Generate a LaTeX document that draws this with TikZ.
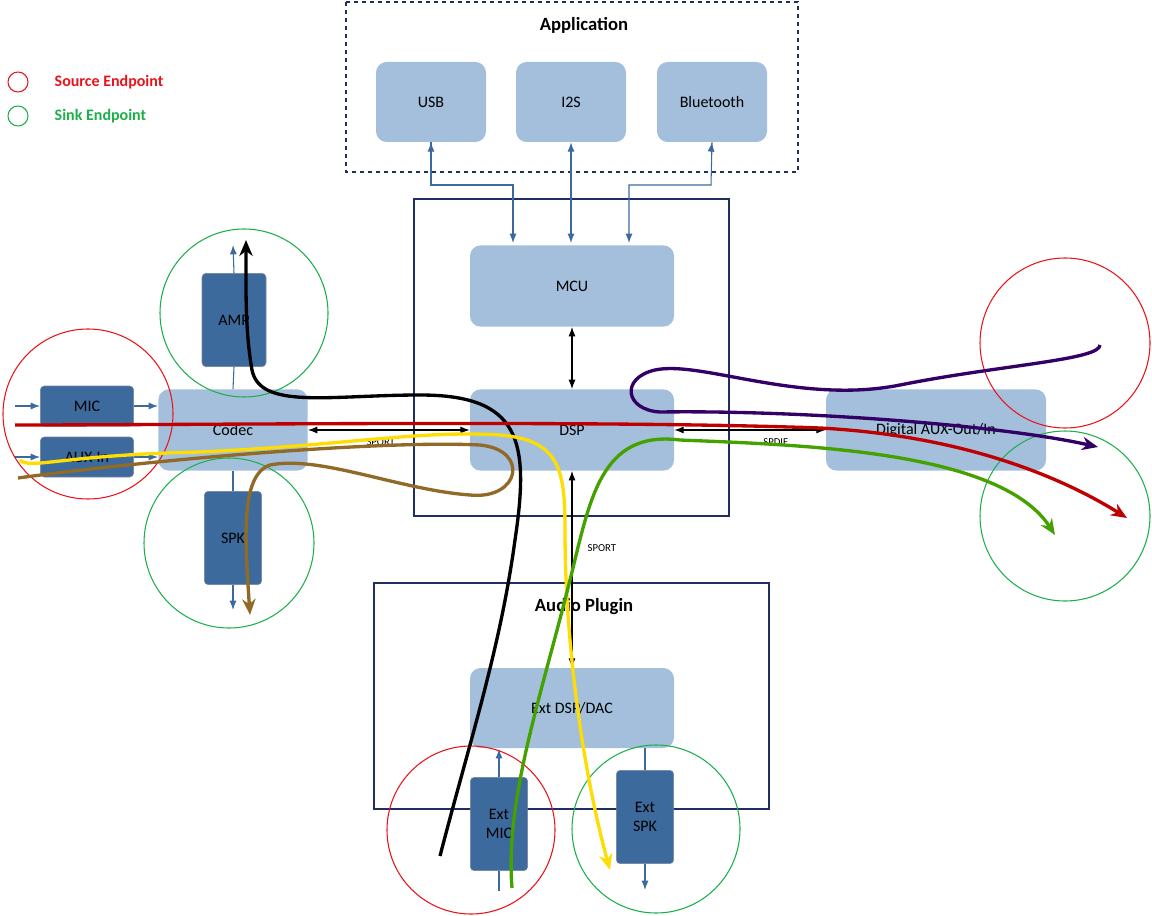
\documentclass[tikz,border=0pt]{standalone}
\usepackage{fontspec}
\setmainfont{Carlito}
\usetikzlibrary{positioning,arrows.meta}
\definecolor{lightblk}{HTML}{A3BFDB}
\definecolor{darkblk}{HTML}{3C6A9C}
\definecolor{frame}{HTML}{1F2F5F}
\definecolor{srcred}{HTML}{E8141B}
\definecolor{snkgreen}{HTML}{1DAF4B}
\begin{document}
\begin{tikzpicture}[x=0.75pt,y=-0.75pt,
        block/.style={rectangle, rounded corners=8pt, fill=lightblk, font=\fontsize{12}{14}\selectfont},
        dblock/.style={rectangle, rounded corners=3pt, fill=darkblk, draw=frame!60, font=\fontsize{12}{14}\selectfont, align=center},
        area/.style={draw=frame, thick},
        title/.style={font=\bfseries\fontsize{14}{16}\selectfont},
        link/.style={draw=darkblk, thick, -{Latex[length=7pt]}},
        blink/.style={thick, {Latex[length=7pt]}-{Latex[length=7pt]}},
        tag/.style={font=\fontsize{8}{9}\selectfont},
        src/.style={draw=srcred, thick},
        snk/.style={draw=snkgreen, thick},
        flow/.style={line width=2.5pt, -{Stealth[length=12pt,width=10pt]}}
    ]
        \useasboundingbox (0,0) rectangle (1152,916);

        % application
        \draw[area, dashed, line width=1.5pt] (346,2) rectangle (798,172);
        \node[title] (app) at (584,25) {Application};
        \node[block, minimum width=82.5pt, minimum height=60pt] (usb) at (431,102) {USB};
        \node[block, minimum width=82.5pt, minimum height=60pt] (i2s) at (571,102) {I2S};
        \node[block, minimum width=82.5pt, minimum height=60pt] (bt)  at (712,102) {Bluetooth};

        % dsp area
        \draw[area] (414,199) rectangle (729,516);
        \node[block, minimum width=153pt, minimum height=61pt] (mcu) at (572,286) {MCU};
        \node[block, minimum width=153pt, minimum height=61pt] (dsp) at (572,430) {DSP};
        \node[block, minimum width=112pt, minimum height=61pt] (codec) at (233,430) {Codec};
        \node[block, minimum width=165pt, minimum height=61pt] (aux) at (936,430) {Digital AUX-Out/In};

        % audio plugin
        \draw[area] (374,583) rectangle (769,809);
        \node[title] (plug) at (584,607) {Audio Plugin};
        \node[block, minimum width=153pt, minimum height=60pt] (ext) at (572,708) {Ext DSP/DAC};

        % endpoints
        \node[dblock, minimum width=70pt, minimum height=30pt] (mic) at (87,406) {MIC};
        \node[dblock, minimum width=70pt, minimum height=30pt] (auxin) at (87,457) {AUX-In};
        \node[dblock, minimum width=48pt, minimum height=70pt] (amp) at (234,320) {AMP};
        \node[dblock, minimum width=43pt, minimum height=70pt] (spk) at (233,538) {SPK};
        \node[dblock, minimum width=43pt, minimum height=70pt] (extmic) at (499,824) {Ext\\MIC};
        \node[dblock, minimum width=43pt, minimum height=70pt] (extspk) at (645,817) {Ext\\SPK};

        % blue links
        \draw[link] (usb.south) -- (431,185) -| (513,243);
        \draw[link, <-, >={Latex[length=7pt]}] (usb.south) -- (431,152);
        \draw[link, {Latex[length=7pt]}-{Latex[length=7pt]}] (i2s.south) -- (571,243);
        \draw[link] (bt.south) -- (711,185) -| (629,243);
        \draw[link, <-, >={Latex[length=7pt]}] (bt.south) -- (711,152);
        \coordinate (micin) at (15,406);
        \coordinate (auxinl) at (15,457);
        \draw[link] (micin) -- (mic.west);
        \draw[link] (mic.east) -- (158,406);
        \draw[link] (auxinl) -- (auxin.west);
        \draw[link] (auxin.east) -- (158,457);
        \draw[draw=darkblk, thick] (amp.south) -- (233,389);
        \draw[link] (amp.north) -- (233,245);
        \draw[draw=darkblk, thick] (codec.south) -- (spk.north);
        \draw[link] (spk.south) -- (233,610);
        \draw[draw=darkblk, thick] (499,891) -- (extmic.south);
        \draw[link] (extmic.north) -- (499,749);
        \draw[draw=darkblk, thick] (ext.south -| extspk) -- (extspk.north);
        \draw[link] (extspk.south) -- (645,890);

        % bus links
        \draw[blink] (mcu.south) -- (dsp.north);
        \draw[blink] (codec.east) -- (dsp.west) node[tag, pos=0.45, below=3pt] {SPORT};
        \draw[blink] (dsp.east) -- (aux.west) node[tag, pos=0.67, below=3pt] {SPDIF};
        \draw[blink] (dsp.south) -- (ext.north) node[tag, pos=0.39, right=8pt] {SPORT};

        % endpoint rings
        \draw[snk] (244,313) circle (84);
        \draw[src] (88,414) circle (85);
        \draw[snk] (229,543) circle (85);
        \draw[src] (1065,343) circle (85);
        \draw[snk] (1065,516) circle (85);
        \draw[src] (471,830) circle (84);
        \draw[snk] (656,829) circle (84);

        % legend
        \draw[src] (18,82) circle (10);
        \node[text=srcred, font=\bfseries\fontsize{12}{14}\selectfont, anchor=west] (srclbl) at (50,82) {Source Endpoint};
        \draw[snk] (18,116) circle (10);
        \node[text=snkgreen, font=\bfseries\fontsize{12}{14}\selectfont, anchor=west] (snklbl) at (50,116) {Sink Endpoint};

        % flows
        \draw[flow, black] (440,856) .. controls (470,740) and (500,650) .. (515,540)
            .. controls (530,440) and (520,395) .. (420,395)
            .. controls (330,395) and (260,410) .. (252,370)
            .. controls (245,330) and (246,290) .. (246,240);
        \draw[flow, red!75!black] (15,425) .. controls (200,425) and (600,420) .. (820,428)
            .. controls (950,435) and (1050,470) .. (1127,518);
        \draw[flow, yellow!80!orange] (20,460) .. controls (30,470) and (60,455) .. (200,452)
            .. controls (350,445) and (420,430) .. (500,435)
            .. controls (560,440) and (565,470) .. (565,530)
            .. controls (565,650) and (585,780) .. (610,870);
        \draw[flow, brown!70!black!90!yellow] (18,478) .. controls (150,460) and (380,440) .. (480,445)
            .. controls (530,450) and (520,500) .. (470,495)
            .. controls (400,490) and (320,455) .. (270,465)
            .. controls (240,475) and (245,540) .. (250,615);
        \draw[flow, green!40!olive!90!black] (512,888) .. controls (505,800) and (540,700) .. (570,580)
            .. controls (590,500) and (600,430) .. (680,440)
            .. controls (800,445) and (1000,450) .. (1055,535);
        \draw[flow, violet!50!black!80!blue] (1100,345) .. controls (1100,360) and (1000,365) .. (900,385)
            .. controls (800,405) and (700,360) .. (655,370)
            .. controls (620,378) and (625,410) .. (660,412)
            .. controls (800,410) and (1000,425) .. (1098,447);
    \end{tikzpicture}
\end{document}
